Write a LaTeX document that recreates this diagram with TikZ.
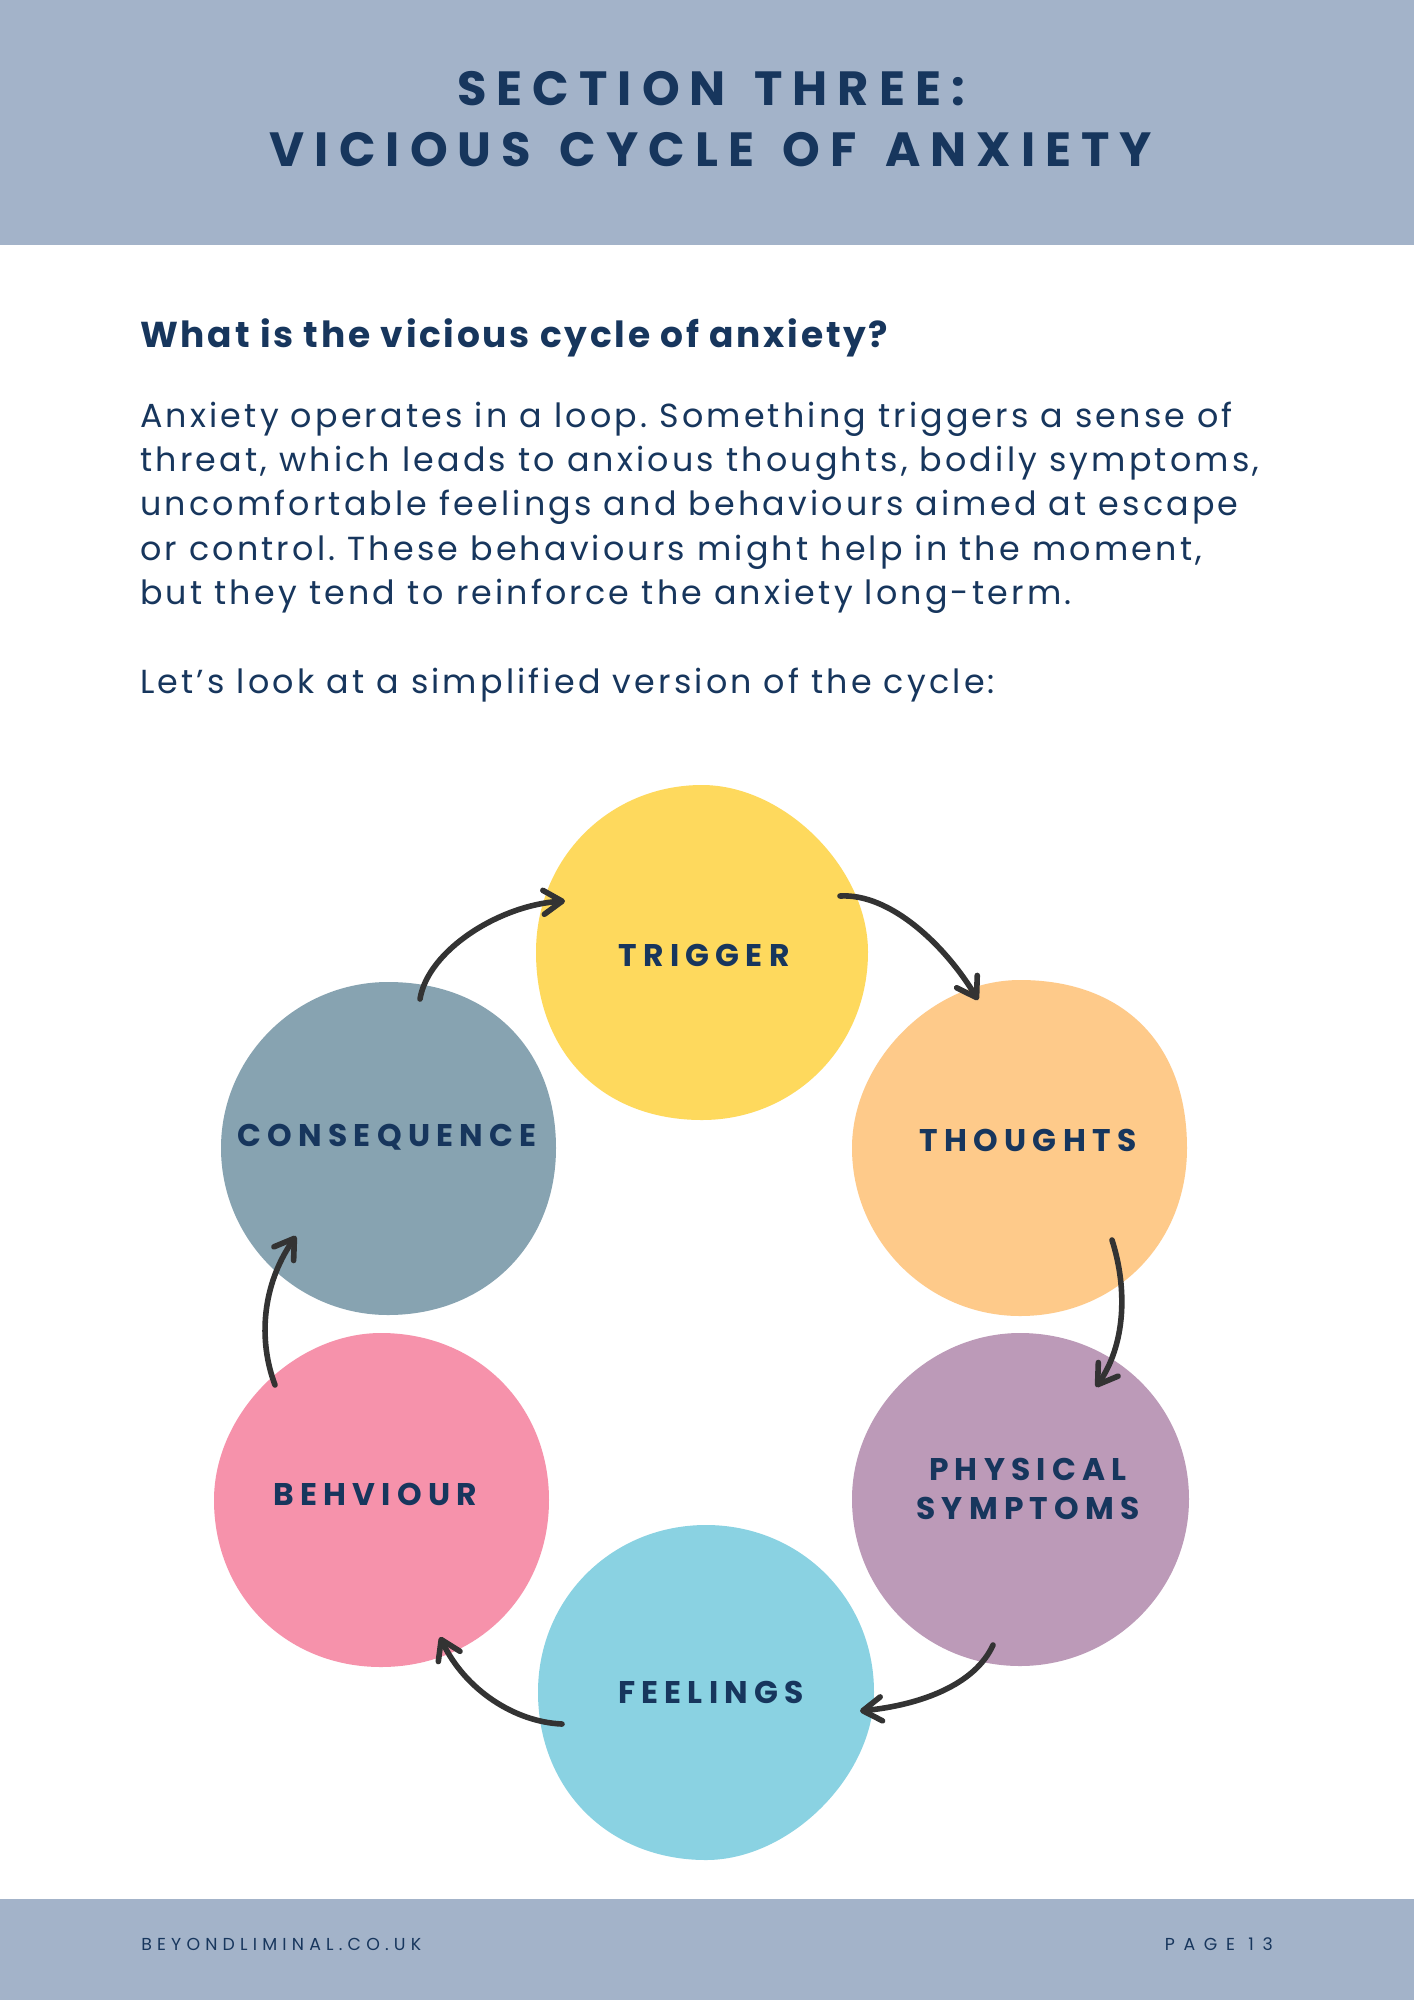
\documentclass[tikz,border=0pt]{standalone}
\usepackage{fontspec}
\setmainfont{Poppins}
\newfontfamily\titlef[LetterSpace=21,WordSpace=1.4]{Poppins}
\newfontfamily\headf[LetterSpace=7.6]{Poppins}
\newfontfamily\bodyf[LetterSpace=9.5]{Poppins}
\newfontfamily\labelf[LetterSpace=20]{Poppins}
\newfontfamily\footf[LetterSpace=30]{Poppins}
\newfontfamily\footpf[LetterSpace=50]{Poppins}
\usetikzlibrary{arrows.meta}
\definecolor{band}{HTML}{A3B3C9}
\definecolor{navy}{HTML}{17365D}
\definecolor{cyellow}{HTML}{FED95D}
\definecolor{corange}{HTML}{FECA8A}
\definecolor{cgrey}{HTML}{87A3B1}
\definecolor{cpurple}{HTML}{BC9AB8}
\definecolor{cpink}{HTML}{F692AB}
\definecolor{cblue}{HTML}{8AD2E2}
\definecolor{arrowc}{HTML}{333333}
\frenchspacing
% #1 colour, #2 right, #3 top, #4 left, #5 bottom radii, #6-#9 quadrant roundness (UR, UL, LL, LR)
\newcommand\myblob[9]{%
  \fill[#1] (#2,0) .. controls (#2,{-#6*#3}) and ({#6*#2},-#3) .. (0,-#3)
  .. controls ({-#7*#4},-#3) and (-#4,{-#7*#3}) .. (-#4,0)
  .. controls (-#4,{#8*#5}) and ({-#8*#4},#5) .. (0,#5)
  .. controls ({#9*#2},#5) and (#2,{#9*#5}) .. cycle;}
\begin{document}
\begin{tikzpicture}[x=0.75pt,y=-0.75pt,
  titletext/.style={font=\titlef\bfseries\fontsize{36}{40}\selectfont, text=navy, inner sep=0pt, anchor=base},
  bodytext/.style={font=\bodyf\fontsize{25}{33}\selectfont, text=navy, inner sep=0pt, anchor=base west},
  lbl/.style={font=\labelf\bfseries\fontsize{23.5}{29}\selectfont, text=navy, inner sep=0pt, align=center},
  foot/.style={font=\footf\fontsize{13}{15}\selectfont, text=navy, inner sep=0pt},
  arr/.style={draw=arrowc, line width=4.2pt, line cap=round, -{Straight Barb[length=14pt,width=18pt,round]}}]
\useasboundingbox (0,0) rectangle (1414,2000);
\fill[white] (0,0) rectangle (1414,2000);
\fill[band] (0,0) rectangle (1414,245);
\fill[band] (0,1899) rectangle (1414,2000);
% header
\node[titletext] (t1) at (711,105) {SECTION THREE:};
\node[titletext] (t2) at (711,166) {VICIOUS CYCLE OF ANXIETY};
% body
\node[bodytext, font=\headf\bfseries\fontsize{27}{32}\selectfont] (h) at (140,347) {What is the vicious cycle of anxiety?};
\node[bodytext] (p1) at (140,427) {Anxiety operates in a loop. Something triggers a sense of};
\node[bodytext] (p2) at (140,471.5) {threat, which leads to anxious thoughts, bodily symptoms,};
\node[bodytext] (p3) at (140,515.6) {uncomfortable feelings and behaviours aimed at escape};
\node[bodytext] (p4) at (140,560) {or control. These behaviours might help in the moment,};
\node[bodytext] (p5) at (140,604) {but they tend to reinforce the anxiety long-term.};
\node[bodytext] (p6) at (140,693) {Let’s look at a simplified version of the cycle:};
% blobs
\begin{scope}[shift={(702,952)}]
\myblob{cyellow}{166}{167}{166}{168}{0.50}{0.56}{0.60}{0.56}
\end{scope}
\begin{scope}[shift={(388,1148)}]
\myblob{cgrey}{168}{166}{167}{167}{0.60}{0.55}{0.55}{0.58}
\end{scope}
\begin{scope}[shift={(1020,1148)}]
\myblob{corange}{167}{168}{168}{168}{0.62}{0.52}{0.55}{0.57}
\end{scope}
\begin{scope}[shift={(1020,1499)}]
\myblob{cpurple}{169}{166}{168}{167}{0.56}{0.54}{0.56}{0.55}
\end{scope}
\begin{scope}[shift={(381,1500)}]
\myblob{cpink}{168}{167}{167}{167}{0.57}{0.52}{0.57}{0.57}
\end{scope}
\begin{scope}[shift={(706,1692)}]
\myblob{cblue}{168}{167}{168}{168}{0.56}{0.56}{0.58}{0.50}
\end{scope}
% labels
\node[lbl] (trig) at (704,955) {TRIGGER};
\node[lbl] (cons) at (387,1137) {CONSEQUENCE};
\node[lbl] (thou) at (1028,1140) {THOUGHTS};
\node[lbl] (phys) at (1028,1489) {PHYSICAL\\SYMPTOMS};
\node[lbl] (behv) at (375,1494) {BEHVIOUR};
\node[lbl] (feel) at (711,1692) {FEELINGS};
% arrow end points
\coordinate (a1s) at (420,999);   \coordinate (a1e) at (565,901);
\coordinate (a2s) at (840,896);   \coordinate (a2e) at (978,1000);
\coordinate (a3s) at (1112,1240); \coordinate (a3e) at (1096,1387);
\coordinate (a4s) at (993,1645);  \coordinate (a4e) at (860,1711);
\coordinate (a5s) at (562,1724);  \coordinate (a5e) at (440,1637);
\coordinate (a6s) at (275,1385);  \coordinate (a6e) at (296,1236);
\draw[arr] (a1s) .. controls (428,950) and (500,905) .. (a1e);
\draw[arr] (a2s) .. controls (890,893) and (945,945) .. (a2e);
\draw[arr] (a3s) .. controls (1128,1290) and (1125,1345) .. (a3e);
\draw[arr] (a4s) .. controls (975,1685) and (920,1705) .. (a4e);
\draw[arr] (a5s) .. controls (515,1722) and (465,1690) .. (a5e);
\draw[arr] (a6s) .. controls (258,1340) and (262,1285) .. (a6e);
% footer
\node[foot, anchor=base west] (f1) at (141,1950) {BEYONDLIMINAL.CO.UK};
\node[foot, font=\footpf\fontsize{13}{15}\selectfont, anchor=base east] (f2) at (1273,1950) {PAGE 13};
\end{tikzpicture}
\end{document}
